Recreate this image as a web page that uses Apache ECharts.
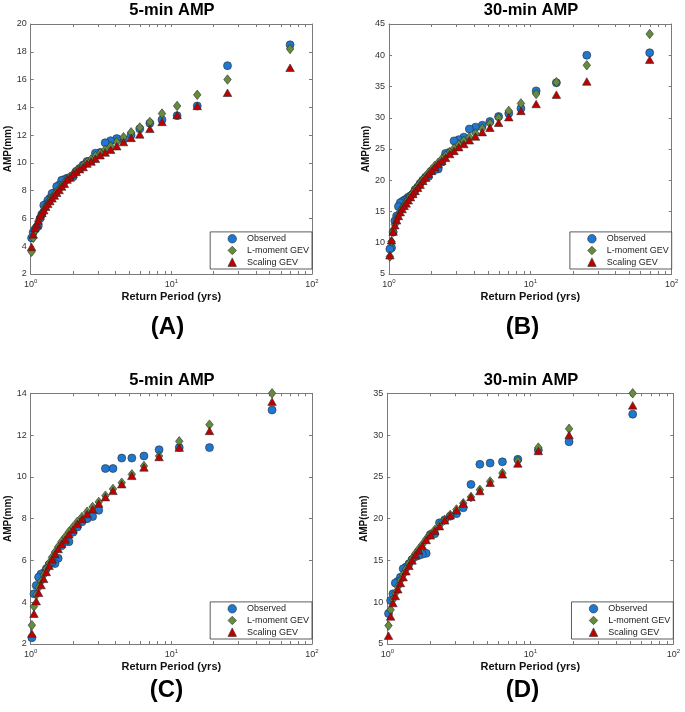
<!DOCTYPE html>
<html><head><meta charset="utf-8">
<script src="https://cdn.jsdelivr.net/npm/echarts@6/dist/echarts.min.js"></script>
<style>html,body{margin:0;padding:0;background:#fff}#c{width:685px;height:712px}</style>
</head><body><div id="c"></div>
<script>
// Return periods (yrs) of the ranked points
const periodsAB = [69.86, 25.08, 15.28, 10.99, 8.579, 7.036, 5.963, 5.175, 4.570, 4.092, 3.702, 3.384, 3.115, 2.885, 2.687, 2.514, 2.362, 2.228, 2.108, 2.000, 1.903, 1.814, 1.734, 1.660, 1.593, 1.530, 1.473, 1.419, 1.369, 1.323, 1.280, 1.239, 1.201, 1.166, 1.132, 1.100, 1.070, 1.042, 1.0145];
const periodsCD = [52.00, 18.67, 11.38, 8.180, 6.386, 5.237, 4.439, 3.847, 3.398, 3.046, 2.755, 2.519, 2.317, 2.146, 1.999, 1.870, 1.757, 1.657, 1.568, 1.489, 1.417, 1.351, 1.291, 1.236, 1.185, 1.138, 1.095, 1.055, 1.0196];

// (A) 5-min AMP
const observedA = [18.5, 17.0, 14.1, 13.4, 13.1, 12.85, 12.45, 12.0, 11.7, 11.75, 11.6, 11.45, 10.75, 10.7, 10.15, 10.1, 9.85, 9.6, 9.4, 9.0, 8.95, 8.9, 8.8, 8.75, 8.4, 8.3, 7.85, 7.8, 7.45, 7.3, 7.0, 6.95, 6.3, 6.0, 5.45, 5.35, 5.2, 5.0, 4.6];
const lmomentA = [18.2, 16.0, 14.9, 14.1, 13.55, 12.95, 12.55, 12.2, 11.85, 11.5, 11.2, 10.95, 10.7, 10.5, 10.25, 10.05, 9.8, 9.6, 9.4, 9.2, 9.0, 8.8, 8.55, 8.35, 8.1, 7.9, 7.7, 7.5, 7.3, 7.05, 6.85, 6.6, 6.35, 6.1, 5.8, 5.45, 5.1, 4.6, 3.6];
const scalingA = [16.85, 15.05, 14.1, 13.45, 12.95, 12.45, 12.05, 11.8, 11.5, 11.2, 10.95, 10.75, 10.55, 10.3, 10.1, 9.95, 9.7, 9.55, 9.35, 9.2, 8.95, 8.8, 8.5, 8.3, 8.05, 7.85, 7.65, 7.45, 7.25, 7.05, 6.85, 6.6, 6.4, 6.2, 5.85, 5.55, 5.3, 4.85, 3.95];

// (B) 30-min AMP
const observedB = [40.4, 40.0, 35.6, 34.3, 31.5, 30.7, 30.2, 29.4, 28.8, 28.5, 28.2, 26.9, 26.5, 26.3, 24.5, 24.3, 22.9, 21.8, 21.7, 21.5, 20.6, 20.5, 20.0, 19.5, 18.9, 18.5, 17.8, 17.5, 17.3, 17.0, 16.8, 16.6, 16.4, 15.8, 14.3, 13.5, 11.7, 9.2, 9.0];
const lmomentB = [43.4, 38.4, 35.7, 33.8, 32.3, 31.1, 30.0, 29.1, 28.3, 27.5, 26.9, 26.3, 25.7, 25.1, 24.5, 23.9, 23.4, 22.8, 22.3, 21.7, 21.2, 20.6, 20.1, 19.5, 19.0, 18.5, 18.0, 17.5, 17.0, 16.5, 16.0, 15.5, 15.0, 14.4, 13.7, 12.9, 11.8, 10.2, 7.8];
const scalingB = [39.3, 35.8, 33.7, 32.2, 31.1, 30.1, 29.2, 28.4, 27.7, 27.0, 26.4, 25.8, 25.3, 24.7, 24.2, 23.6, 23.1, 22.6, 22.1, 21.5, 21.0, 20.4, 19.9, 19.3, 18.8, 18.3, 17.8, 17.3, 16.8, 16.3, 15.9, 15.4, 14.9, 14.3, 13.6, 12.8, 11.8, 10.4, 8.0];

// (C) 5-min AMP
const observedC = [13.2, 11.4, 11.4, 11.3, 11.0, 10.9, 10.9, 10.4, 10.4, 8.4, 8.1, 8.0, 7.85, 7.6, 7.35, 6.9, 6.9, 6.7, 6.1, 5.85, 5.9, 5.8, 5.6, 5.4, 5.35, 5.2, 4.8, 4.4, 2.3];
const lmomentC = [14.0, 12.5, 11.7, 11.0, 10.52, 10.12, 9.72, 9.42, 9.1, 8.8, 8.56, 8.33, 8.08, 7.85, 7.6, 7.37, 7.12, 6.9, 6.65, 6.4, 6.15, 5.87, 5.6, 5.3, 5.0, 4.7, 4.35, 3.8, 2.9];
const scalingC = [13.6, 12.2, 11.4, 10.95, 10.45, 10.05, 9.65, 9.33, 9.03, 8.72, 8.45, 8.22, 7.98, 7.75, 7.48, 7.25, 7.0, 6.8, 6.55, 6.3, 6.05, 5.75, 5.45, 5.12, 4.82, 4.45, 4.05, 3.45, 2.5];

// (D) 30-min AMP
const observedD = [32.5, 29.2, 28.2, 27.1, 26.8, 26.65, 26.5, 24.1, 21.3, 20.6, 20.3, 19.85, 19.5, 18.2, 18.1, 15.85, 15.75, 15.6, 15.45, 15.1, 14.6, 14.2, 14.0, 13.0, 12.5, 12.3, 11.0, 10.2, 8.65];
const lmomentD = [35.0, 30.75, 28.5, 26.9, 25.45, 24.45, 23.45, 22.6, 21.85, 21.1, 20.45, 19.85, 19.2, 18.65, 18.1, 17.55, 16.9, 16.35, 15.8, 15.2, 14.6, 13.95, 13.3, 12.6, 11.85, 11.1, 10.3, 9.1, 7.2];
const scalingD = [33.55, 30.0, 28.1, 26.6, 25.3, 24.3, 23.3, 22.6, 21.8, 21.0, 20.4, 19.8, 19.1, 18.55, 18.0, 17.45, 16.75, 16.2, 15.65, 15.0, 14.35, 13.7, 13.0, 12.3, 11.55, 10.75, 9.9, 8.3, 6.0];

const seriesNames = ['Observed', 'L-moment GEV', 'Scaling GEV'];
const legendIcons = ['circle', 'diamond', 'triangle'];
const xTickValues = [1, 2, 3, 4, 5, 6, 7, 8, 9, 10, 20, 30, 40, 50, 60, 70, 80, 90, 100];
const xLabelValues = [1, 10, 100];
const panelTitles = ['5-min AMP', '30-min AMP', '5-min AMP', '30-min AMP'];
const panelTags = ['(A)', '(B)', '(C)', '(D)'];

const FONT = '"Liberation Sans", Arial, Helvetica, sans-serif';
const AX = '#7a7a7a';
const LBL = '#333333';

const panels = [
  {t: periodsAB, obs: observedA, lm: lmomentA, sc: scalingA, yMin: 2, yMax: 20, yStep: 2,
   grid: {left: 30.7, top: 24, width: 281.3, height: 250}, titleX: 172, titleY: 10, tagX: 167.5, tagY: 327},
  {t: periodsAB, obs: observedB, lm: lmomentB, sc: scalingB, yMin: 5, yMax: 45, yStep: 5,
   grid: {left: 389, top: 24, width: 282.7, height: 250}, titleX: 531, titleY: 10, tagX: 522.5, tagY: 327},
  {t: periodsCD, obs: observedC, lm: lmomentC, sc: scalingC, yMin: 2, yMax: 14, yStep: 2,
   grid: {left: 30.7, top: 393.3, width: 281.3, height: 250.7}, titleX: 172, titleY: 380.5, tagX: 166.5, tagY: 690.5},
  {t: periodsCD, obs: observedD, lm: lmomentD, sc: scalingD, yMin: 5, yMax: 35, yStep: 5,
   grid: {left: 387.3, top: 393.3, width: 286, height: 250.7}, titleX: 531, titleY: 380.5, tagX: 522.5, tagY: 690.5}
];

const option = {animation: false, backgroundColor: '#fff', grid: [], xAxis: [], yAxis: [], series: [], legend: [], graphic: []};

function makeSeries(name, t, ys, symbol, size, color, idx, z) {
  return {
    type: 'scatter', name: name, xAxisIndex: 2 * idx, yAxisIndex: 2 * idx,
    symbol: symbol, symbolSize: size, clip: false, z: z,
    data: t.map((x, k) => [x, ys[k]]),
    itemStyle: {color: color, borderColor: '#2b2b2b', borderWidth: 0.6, opacity: 1},
    emphasis: {disabled: true}
  };
}

panels.forEach((p, i) => {
  option.grid.push(Object.assign({show: false, containLabel: false}, p.grid));
  const xBase = {
    type: 'log', logBase: 10, min: 1, max: 100, gridIndex: i,
    splitLine: {show: false}, minorTick: {show: false},
    axisLine: {show: true, onZero: false, lineStyle: {color: AX, width: 1}},
    axisTick: {show: true, inside: true, length: 3, customValues: xTickValues, lineStyle: {color: AX, width: 1}}
  };
  option.xAxis.push(Object.assign({}, xBase, {
    position: 'bottom',
    name: 'Return Period (yrs)', nameLocation: 'middle', nameGap: 17.5,
    nameTextStyle: {fontFamily: FONT, fontWeight: 'bold', fontSize: 11, color: '#111'},
    axisLabel: {
      show: true, margin: 4, customValues: xLabelValues,
      formatter: v => '{b|10}{s|' + Math.round(Math.log10(v)) + '}',
      rich: {
        b: {fontFamily: FONT, fontSize: 9, color: LBL, lineHeight: 11, verticalAlign: 'bottom'},
        s: {fontFamily: FONT, fontSize: 6, color: LBL, lineHeight: 11, verticalAlign: 'top'}
      }
    }
  }));
  option.xAxis.push(Object.assign({}, xBase, {position: 'top', axisLabel: {show: false}}));
  const yBase = {
    type: 'value', min: p.yMin, max: p.yMax, interval: p.yStep, gridIndex: i,
    splitLine: {show: false},
    axisLine: {show: true, onZero: false, lineStyle: {color: AX, width: 1}},
    axisTick: {show: true, inside: true, length: 3, lineStyle: {color: AX, width: 1}}
  };
  option.yAxis.push(Object.assign({}, yBase, {
    position: 'left',
    name: 'AMP(mm)', nameLocation: 'middle', nameGap: 11.5, nameRotate: 90,
    nameTextStyle: {fontFamily: FONT, fontWeight: 'bold', fontSize: 10, color: '#111'},
    axisLabel: {show: true, margin: 4, fontFamily: FONT, fontSize: 9, color: LBL}
  }));
  option.yAxis.push(Object.assign({}, yBase, {position: 'right', axisLabel: {show: false}}));

  option.series.push(makeSeries(seriesNames[0], p.t, p.obs, 'circle', 8, '#1e78d2', i, 2));
  option.series.push(makeSeries(seriesNames[1], p.t, p.lm, 'diamond', [7.5, 9.5], '#648c3c', i, 3));
  option.series.push(makeSeries(seriesNames[2], p.t, p.sc, 'triangle', [8.5, 7.5], '#c00000', i, 4));

  option.legend.push({
    data: seriesNames.map((n, k) => ({name: n, icon: legendIcons[k]})),
    orient: 'vertical', selectedMode: false,
    right: 685 - (p.grid.left + p.grid.width), bottom: 712 - (p.grid.top + p.grid.height - 5),
    itemWidth: 8.5, itemHeight: 8.5, itemGap: 0, padding: [1, 3, 1, 17.5],
    backgroundColor: '#fff', borderColor: '#333', borderWidth: 0.8, borderRadius: 0,
    itemStyle: {borderColor: '#2b2b2b', borderWidth: 0.6},
    textStyle: {fontFamily: FONT, fontSize: 9, color: '#222', lineHeight: 11.7, padding: [0, 0, 0, 5.5]}
  });

  option.graphic.push({
    type: 'text', x: p.titleX, y: p.titleY, z: 100,
    style: {text: panelTitles[i], font: 'bold 16.5px ' + FONT, fill: '#000',
      align: 'center', verticalAlign: 'middle', textAlign: 'center', textVerticalAlign: 'middle'}
  });
  option.graphic.push({
    type: 'text', x: p.tagX, y: p.tagY, z: 100,
    style: {text: panelTags[i], font: 'bold 24px ' + FONT, fill: '#000',
      align: 'center', verticalAlign: 'middle', textAlign: 'center', textVerticalAlign: 'middle'}
  });
});

const chart = echarts.init(document.getElementById('c'), null, {renderer: 'canvas'});
chart.setOption(option);
</script>
</body></html>
